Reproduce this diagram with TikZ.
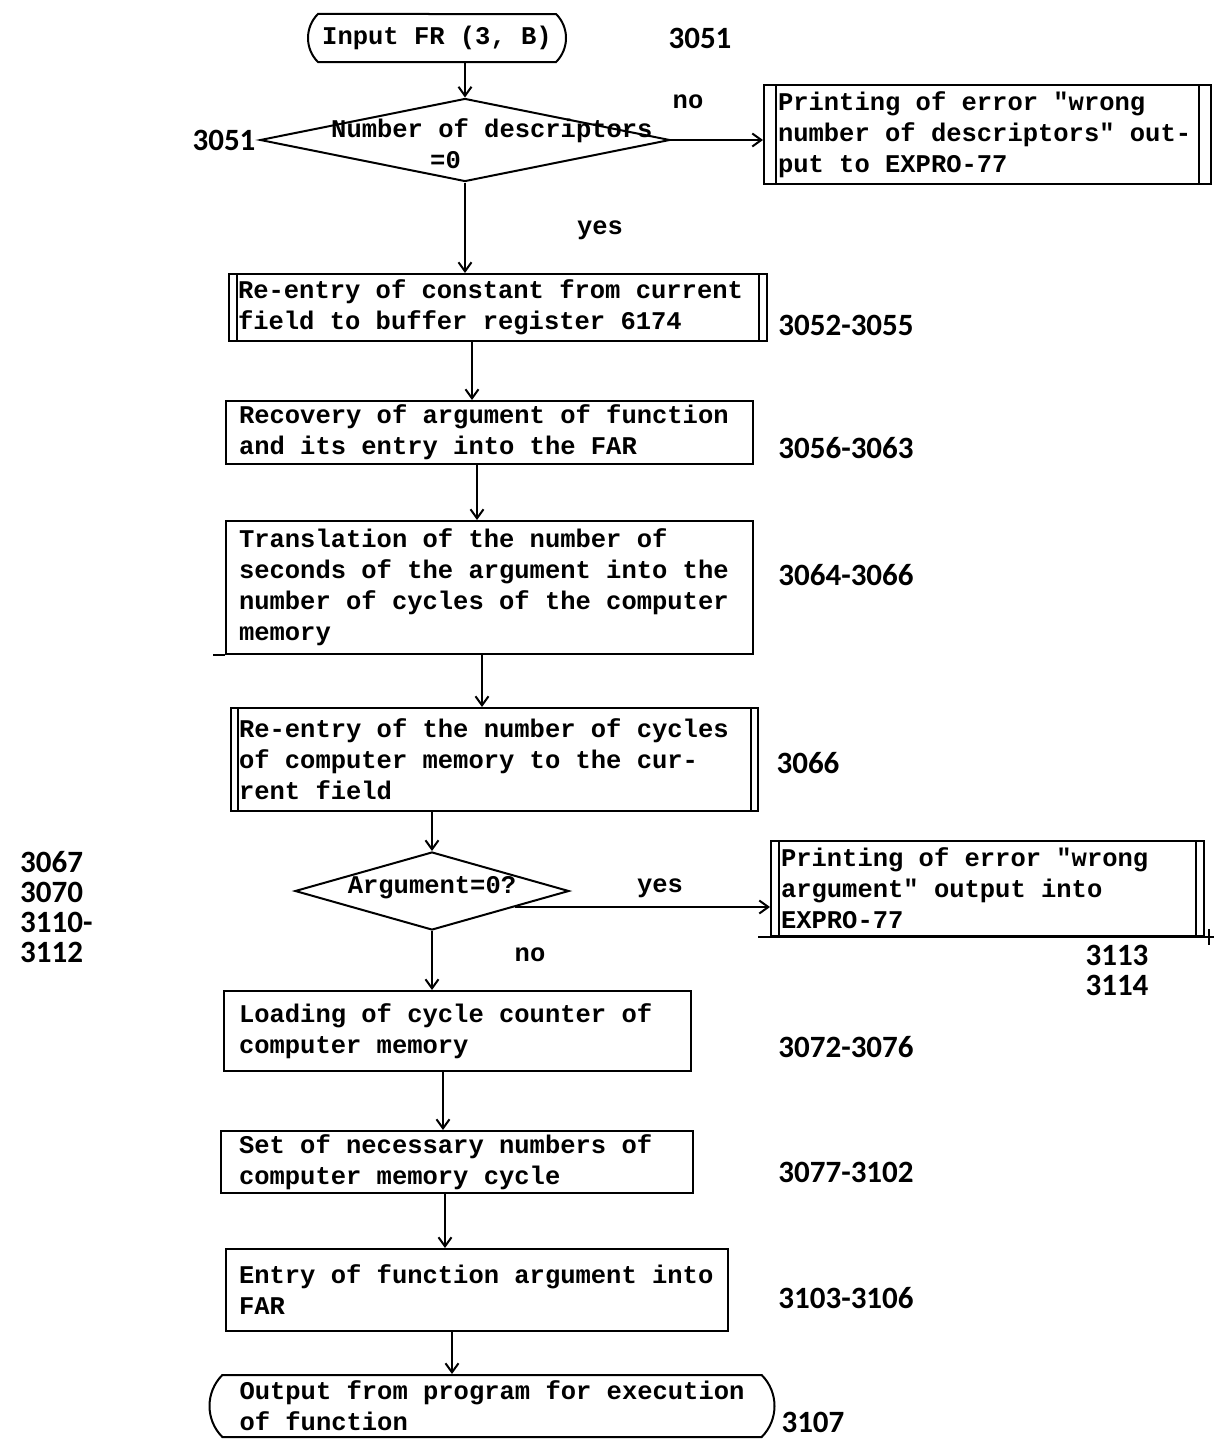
\documentclass[tikz,border=0pt]{standalone}
\usepackage{fontspec}
\setmonofont{Liberation Mono}
\newfontfamily\numf{Carlito}
\usetikzlibrary{shapes.geometric,shapes.misc,arrows.meta,calc}
\begin{document}
\begin{tikzpicture}[x=1pt,y=-1pt,
  every node/.style={font=\fontsize{25.5}{31}\selectfont\ttfamily\bfseries},
  ln/.style={line width=2pt},
  arr/.style={ln,-{Straight Barb[length=9pt,width=13pt]}},
  box/.style={draw,ln,rectangle,anchor=north west,align=flush left,inner ysep=0pt},
  num/.style={font=\fontsize{31}{30}\selectfont\numf\bfseries},
  term/.style={draw,ln,rounded rectangle,rounded rectangle arc length=90,inner sep=0pt},
  dec/.style={draw,ln,diamond,inner sep=0pt},
]
\useasboundingbox (0,0) rectangle (1214,1440);

% start
\node[term,minimum width=258pt,minimum height=48pt] (s) at (437,38) {Input FR (3, B)};
\node[num] (n3051a) at (700,38) {3051};

% decision 1
\node[dec,minimum width=410pt,minimum height=83pt] (d1) at (465,140) {};
\node[align=flush left,inner sep=0pt,anchor=north west] (d1t) at (331,118) {Number of descriptors\\\hspace*{99pt}=0};
\node[num] (n3051b) at (224,140) {3051};
\node (no1) at (688,102) {no};
\node (yes1) at (600,230) {yes};

% error 1
\node[box,inner xsep=14pt,text width=419pt,minimum height=99pt] (e1) at (763,84)
  {Printing of error "wrong\\number of descriptors" out-\\put to EXPRO-77};

% boxes
\node[box,inner xsep=9pt,text width=520pt,minimum height=67pt] (b2) at (228,273)
  {Re-entry of constant from current\\field to buffer register 6174};
\node[num] (n2) at (846,325) {3052-3055};

\node[box,inner xsep=13pt,text width=501pt,minimum height=63pt] (b3) at (225,400)
  {Recovery of argument of function\\and its entry into the FAR};
\node[num] (n3) at (846,448) {3056-3063};

\node[box,inner xsep=13pt,text width=501pt,minimum height=133pt] (b4) at (225,520)
  {Translation of the number of\\seconds of the argument into the\\number of cycles of the computer\\memory};
\node[num] (n4) at (846,575) {3064-3066};

\node[box,inner xsep=8pt,text width=511pt,minimum height=103pt] (b5) at (230,707)
  {Re-entry of the number of cycles\\of computer memory to the cur-\\rent field};
\node[num] (n5) at (808,763) {3066};

% decision 2
\node[dec,minimum width=274pt,minimum height=78pt] (d2) at (432,891) {};
\node[inner sep=0pt] (d2t) at (432,888) {Argument=0?};
\node[num,align=left,anchor=west,inner sep=0pt] (n6) at (20,907) {3067\\3070\\3110-\\3112};
\node (yes2) at (660,888) {yes};
\node (no2) at (530,955) {no};

\node[box,inner xsep=10pt,text width=413pt,minimum height=95pt] (e2) at (770,840)
  {Printing of error "wrong\\argument" output into\\EXPRO-77};
\node[num,align=left,inner sep=0pt] (n7) at (1117,970) {3113\\3114};

\node[box,inner xsep=15pt,text width=437pt,minimum height=80pt] (b7) at (223,990)
  {Loading of cycle counter of\\computer memory};
\node[num] (n8) at (846,1047) {3072-3076};

\node[box,inner xsep=18pt,text width=436pt,minimum height=62pt] (b8) at (220,1130)
  {Set of necessary numbers of\\computer memory cycle};
\node[num] (n9) at (846,1172) {3077-3102};

\node[box,inner xsep=13pt,text width=476pt,minimum height=82pt] (b9) at (225,1248)
  {Entry of function argument into\\FAR};
\node[num] (n10) at (846,1298) {3103-3106};

% end
\node[term,minimum width=565pt,minimum height=62pt,align=flush left,text width=505pt] (en) at (492,1406)
  {Output from program for execution\\of function};
\node[num,anchor=west] (n11) at (778,1422) {3107};

% double side lines
\foreach \b/\o in {e1/13,b2/9,b5/8,e2/9}{
  \draw[ln] ([xshift=\o pt]\b.north west) -- ([xshift=\o pt]\b.south west);
  \draw[ln] ([xshift=-\o pt]\b.north east) -- ([xshift=-\o pt]\b.south east);
}
\draw[ln] (b4.south west) -- ++(-12,0);
\draw[ln] ([xshift=-12pt]e2.south west) -- ([xshift=12pt]e2.south east);
\draw[ln] ([xshift=4pt,yshift=8pt]e2.south east) -- ([xshift=4pt,yshift=-8pt]e2.south east);

% arrow columns
\coordinate (c23) at (472,0);
\coordinate (c34) at (477,0);
\coordinate (c45) at (482,0);
\coordinate (c78) at (443,0);
\coordinate (c89) at (445,0);
\coordinate (c9e) at (452,0);
\coordinate (dy) at ($(d2.east)!0.4!(d2.south)$);

\draw[arr] (d1.north |- s.south) -- (d1.north);
\draw[arr] (d1.east) -- (d1.east -| e1.west);
\draw[arr] (d1.south) -- (d1.south |- b2.north);
\draw[arr] (b2.south -| c23) -- (b3.north -| c23);
\draw[arr] (b3.south -| c34) -- (b4.north -| c34);
\draw[arr] (b4.south -| c45) -- (b5.north -| c45);
\draw[arr] (b5.south -| d2.north) -- (d2.north);
\draw[arr] (dy) -- (dy -| e2.west);
\draw[arr] (d2.south) -- (d2.south |- b7.north);
\draw[arr] (b7.south -| c78) -- (b8.north -| c78);
\draw[arr] (b8.south -| c89) -- (b9.north -| c89);
\draw[arr] (b9.south -| c9e) -- (en.north -| c9e);
\end{tikzpicture}
\end{document}
